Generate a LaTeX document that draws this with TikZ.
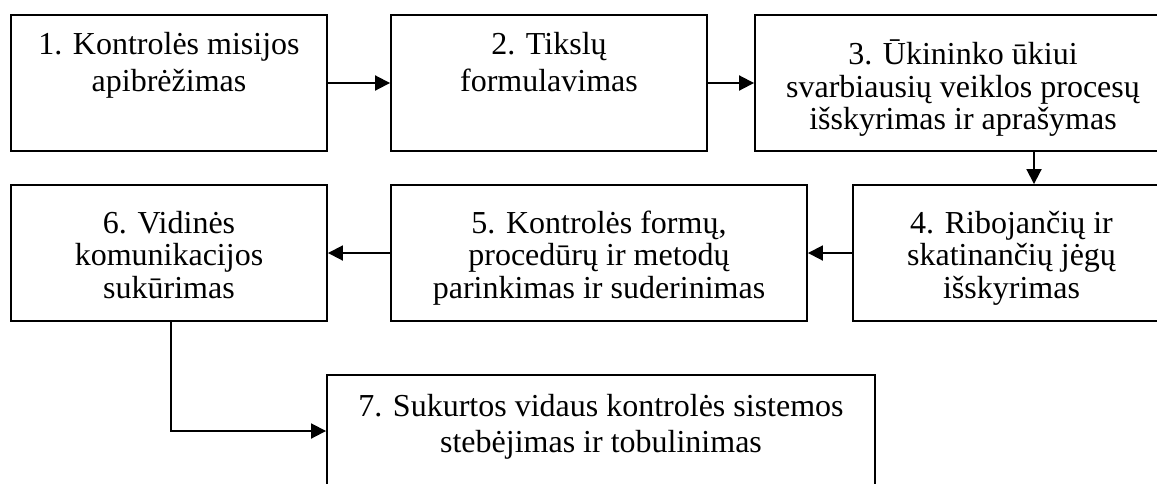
\documentclass[tikz,border=0pt]{standalone}
\usepackage{fontspec}
\setmainfont{Liberation Serif}
\usetikzlibrary{arrows.meta}
\tikzset{
  stagebox/.style={draw, line width=1.9pt, inner sep=0pt},
  txt/.style={anchor=base, inner sep=0pt, font=\fontsize{32}{32}\selectfont},
  arr/.style={line width=1.9pt, -{Triangle[length=15pt,width=15pt]}}
}
\begin{document}
\begin{tikzpicture}[x=1pt,y=-1pt]
\useasboundingbox (0,0) rectangle (1157,483);
% stage boxes
\node[stagebox, minimum width=316pt, minimum height=136pt] (b1) at (169,83) {};
\node[stagebox, minimum width=316pt, minimum height=136pt] (b2) at (549,83) {};
\node[stagebox, minimum width=415pt, minimum height=136pt] (b3) at (962.5,83) {};
\node[stagebox, minimum width=317pt, minimum height=136pt] (b4) at (1011.5,253) {};
\node[stagebox, minimum width=416pt, minimum height=136pt] (b5) at (599,253) {};
\node[stagebox, minimum width=316pt, minimum height=136pt] (b6) at (169,253) {};
\node[stagebox, minimum width=548pt, minimum height=112pt] (b7) at (601,431) {};
% stage texts, one node per line
\node[txt] (t1a) at (169,54) {1. Kontrolės misijos};
\node[txt] (t1b) at (169,91) {apibrėžimas};
\node[txt] (t2a) at (549,54) {2. Tikslų};
\node[txt] (t2b) at (549,91) {formulavimas};
\node[txt] (t3a) at (963,64) {3. Ūkininko ūkiui};
\node[txt] (t3b) at (963,97) {svarbiausių veiklos procesų};
\node[txt] (t3c) at (963,129) {išskyrimas ir aprašymas};
\node[txt] (t4a) at (1011.5,233) {4. Ribojančių ir};
\node[txt] (t4b) at (1011.5,265) {skatinančių jėgų};
\node[txt] (t4c) at (1011.5,298) {išskyrimas};
\node[txt] (t5a) at (599,233) {5. Kontrolės formų,};
\node[txt] (t5b) at (599,265) {procedūrų ir metodų};
\node[txt] (t5c) at (599,298) {parinkimas ir suderinimas};
\node[txt] (t6a) at (169,233) {6. Vidinės};
\node[txt] (t6b) at (169,265) {komunikacijos};
\node[txt] (t6c) at (169,298) {sukūrimas};
\node[txt] (t7a) at (601,416) {7. Sukurtos vidaus kontrolės sistemos};
\node[txt] (t7b) at (601,452) {stebėjimas ir tobulinimas};
% connectors
\draw[arr] (b1.east) -- (b2.west);
\draw[arr] (b2.east) -- (b3.west);
\draw[arr] ([xshift=71.5pt]b3.south) -- ([xshift=71.5pt]b3.south |- b4.north);
\draw[arr] (b4.west) -- (b5.east);
\draw[arr] (b5.west) -- (b6.east);
\draw[arr] ([xshift=2pt]b6.south) |- (b7.west);
\end{tikzpicture}
\end{document}
